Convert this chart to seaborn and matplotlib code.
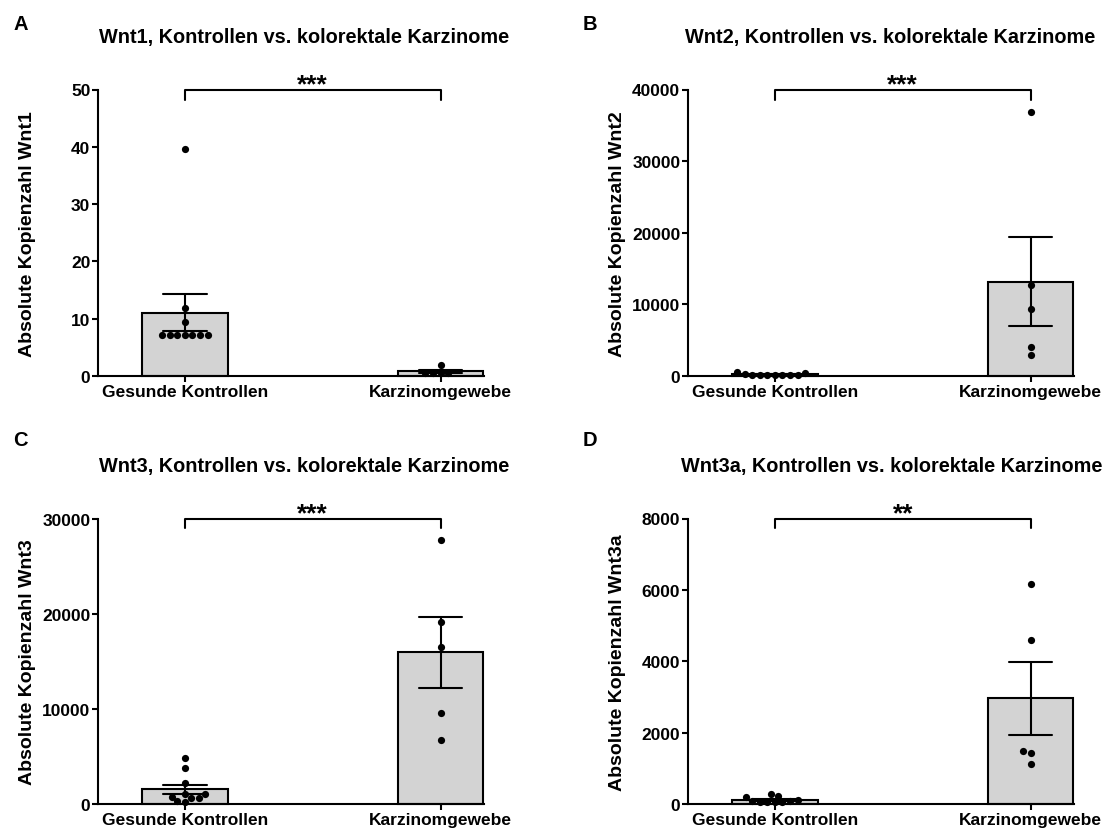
"""
Wnt-Kopienzahlen: Kontrollen vs. kolorektale Karzinome (4 Panels)
"""
import numpy as np
import pandas as pd
import matplotlib
matplotlib.use("Agg")
import matplotlib.pyplot as plt
import seaborn as sns

# Daten
kategorien = ["Gesunde Kontrollen", "Karzinomgewebe"]

wnt1_kontrollen = [7.1, 7.1, 7.1, 9.4, 11.9, 7.1, 7.1, 39.7, 7.1, 7.1]
wnt1_karzinom = [1.95, 0.55, 0.5, 0.55, 0.6]

wnt2_kontrollen = [470, 190, 150, 130, 110, 100, 120, 160, 290, 610]
wnt2_karzinom = [36850, 12650, 9300, 4070, 2950]

wnt3_kontrollen = [4840, 3790, 2250, 1090, 770, 600, 210, 280, 600, 1020]
wnt3_karzinom = [27750, 19160, 16460, 9540, 6700]

wnt3a_kontrollen = [290, 190, 80, 60, 50, 50, 60, 80, 110, 230]
wnt3a_karzinom = [6160, 4600, 1480, 1430, 1120]

gene = ["Wnt1", "Wnt2", "Wnt3", "Wnt3a"]
buchstaben = ["A", "B", "C", "D"]
y_max = [50, 40000, 30000, 8000]
y_schritt = [10, 10000, 10000, 2000]
signifikanz = ["***", "***", "***", "**"]

# Stil
sns.set_style("ticks")
plt.rcParams["font.family"] = ["Liberation Sans", "DejaVu Sans"]
plt.rcParams["font.weight"] = "bold"
plt.rcParams["axes.labelweight"] = "bold"
plt.rcParams["axes.linewidth"] = 1.5
plt.rcParams["xtick.major.width"] = 1.5
plt.rcParams["ytick.major.width"] = 1.5
plt.rcParams["xtick.major.size"] = 4
plt.rcParams["ytick.major.size"] = 4
plt.rcParams["text.color"] = "black"
plt.rcParams["axes.labelcolor"] = "black"
plt.rcParams["xtick.color"] = "black"
plt.rcParams["ytick.color"] = "black"
plt.rcParams["axes.edgecolor"] = "black"

W, H = 1119, 829
fig = plt.figure(figsize=(W / 100, H / 100), dpi=100)


def px_rect(left, top, right, bottom):
    return [left / W, 1 - bottom / H, (right - left) / W, (bottom - top) / H]


# Achsen-Positionen in Pixeln (links, oben, rechts, unten)
rects = [
    (98, 90.5, 484, 377),
    (688, 90.5, 1074, 377),
    (98, 519.5, 484, 805),
    (688, 519.5, 1074, 805),
]
titel_pos = [(304, 43), (890, 43), (304, 472), (892, 472)]
buchstaben_pos = [(13, 30), (583, 30), (13, 446), (583, 446)]

werte = [
    (wnt1_kontrollen, wnt1_karzinom),
    (wnt2_kontrollen, wnt2_karzinom),
    (wnt3_kontrollen, wnt3_karzinom),
    (wnt3a_kontrollen, wnt3a_karzinom),
]

for i, gen in enumerate(gene):
    kontrollen, karzinom = werte[i]
    df = pd.DataFrame({
        "gruppe": [kategorien[0]] * len(kontrollen) + [kategorien[1]] * len(karzinom),
        "wert": kontrollen + karzinom,
    })

    ax = fig.add_axes(px_rect(*rects[i]))

    # Balken mit SEM
    sns.barplot(data=df, x="gruppe", y="wert", order=kategorien, ax=ax,
                errorbar="se", capsize=0.17, width=0.335, saturation=1,
                color="#d3d3d3", edgecolor="black", linewidth=1.5,
                err_kws={"color": "black", "linewidth": 1.5})
    # Einzelwerte
    sns.swarmplot(data=df, x="gruppe", y="wert", order=kategorien, ax=ax,
                  color="black", size=5.2)
    for art in list(ax.collections) + list(ax.patches) + list(ax.lines):
        art.set_clip_on(False)

    ym = y_max[i]
    ax.set_ylim(0, ym)
    ax.set_yticks(np.arange(0, ym + 1, y_schritt[i]))
    ax.set_xlim(-0.34, 1.17)
    ax.set_xlabel("")
    ax.set_ylabel(f"Absolute Kopienzahl {gen}", fontsize=14)
    ax.yaxis.set_label_coords(-0.16, 0.5)
    ax.tick_params(axis="both", labelsize=12.5, pad=1.5)
    sns.despine(ax=ax)

    # Signifikanzklammer
    drop = ym * 10 / 286
    ax.plot([0, 0, 1, 1], [ym - drop, ym, ym, ym - drop], color="black",
            linewidth=1.5, clip_on=False)
    ax.annotate(signifikanz[i], xy=(0.5, ym), xytext=(0, -1),
                textcoords="offset points", ha="center", va="baseline",
                fontsize=19, fontweight="bold", annotation_clip=False)

    tx, ty = titel_pos[i]
    fig.text(tx / W, 1 - ty / H, f"{gen}, Kontrollen vs. kolorektale Karzinome",
             ha="center", va="baseline", fontsize=14.3, fontweight="bold")
    bx, by = buchstaben_pos[i]
    fig.text(bx / W, 1 - by / H, buchstaben[i], ha="left", va="baseline",
             fontsize=14.5, fontweight="bold")

fig.savefig("out.png", dpi=100)
